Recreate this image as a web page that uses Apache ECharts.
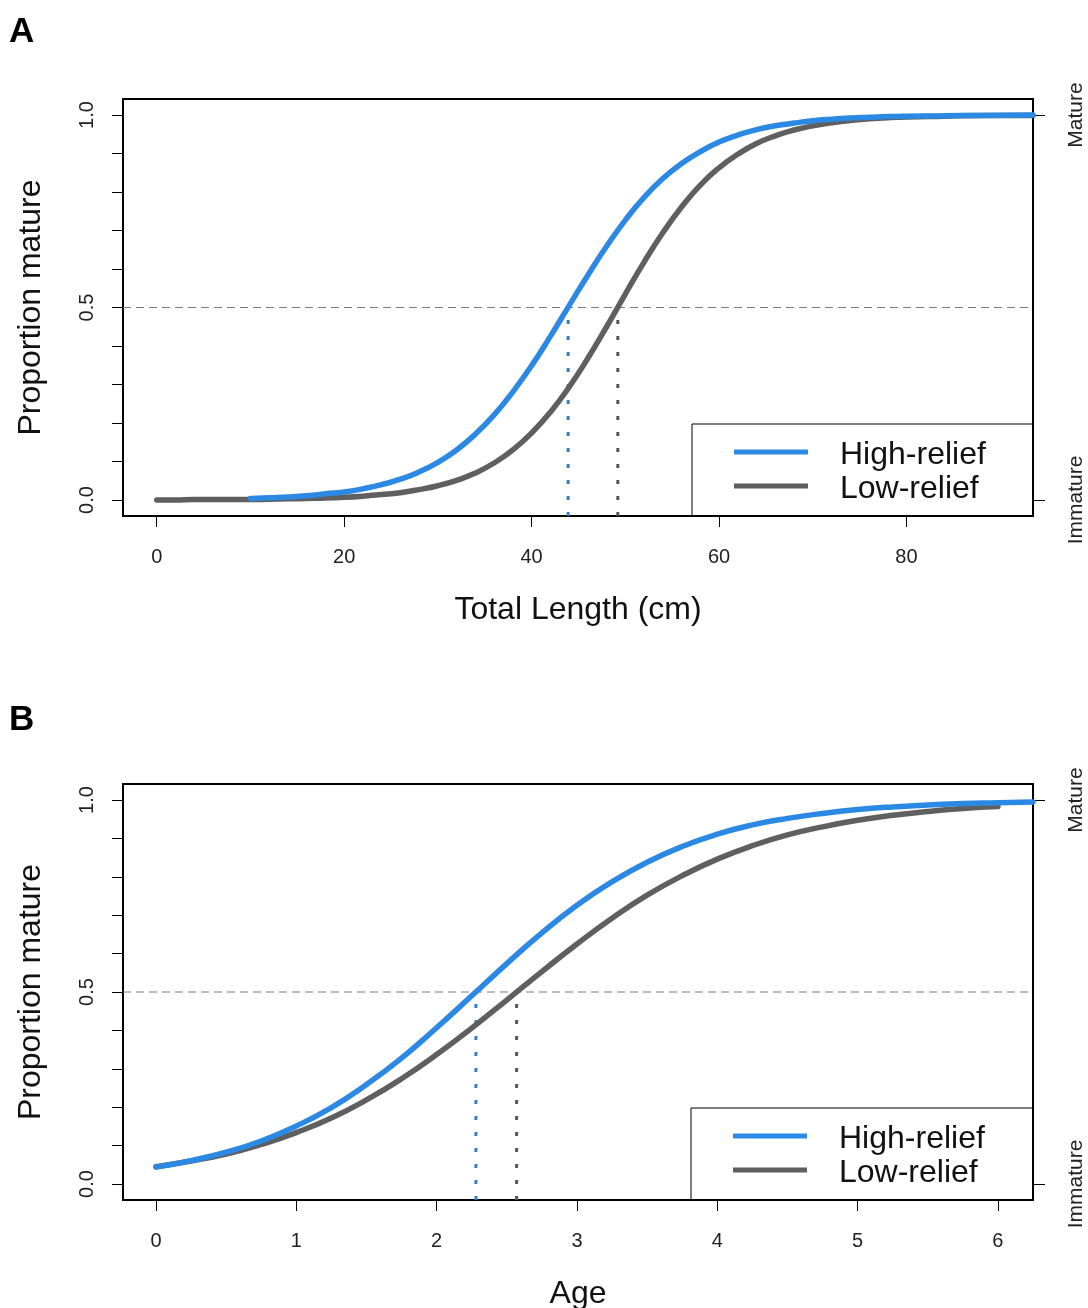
<!DOCTYPE html>
<html>
<head>
<meta charset="utf-8">
<script src="https://cdn.jsdelivr.net/npm/echarts@6/dist/echarts.min.js"></script>
<style>
html,body{margin:0;padding:0;background:#fff;}
#chart{width:1088px;height:1308px;}
</style>
</head>
<body>
<div id="chart"></div>
<script>
// ---------- Panel A: maturity vs total length ----------
const lengthCm = [0,2,4,6,8,10,12,14,16,18,20,22,24,26,28,30,32,34,36,38,40,42,44,46,48,50,52,54,56,58,60,62,64,66,68,70,72,74,76,78,80,84,88,93.5];
const highReliefLength = [null,null,null,null,null,0.004,0.006,0.008,0.011,0.016,0.021,0.029,0.040,0.054,0.073,0.098,0.130,0.171,0.221,0.281,0.349,0.425,0.505,0.584,0.659,0.727,0.786,0.835,0.874,0.905,0.930,0.948,0.962,0.972,0.979,0.985,0.989,0.992,0.994,0.996,0.997,0.998,0.999,1.000];
const lowReliefLength = [0.000,0.000,0.001,0.001,0.001,0.001,0.002,0.003,0.004,0.005,0.007,0.010,0.014,0.019,0.027,0.037,0.051,0.070,0.096,0.130,0.174,0.228,0.293,0.368,0.450,0.535,0.618,0.694,0.761,0.818,0.863,0.898,0.926,0.946,0.961,0.972,0.980,0.986,0.990,0.993,0.995,0.997,0.999,0.999];
const l50Length = {high: 43.9, low: 49.2};
const lengthTicks = [0,20,40,60,80];

// ---------- Panel B: maturity vs age ----------
const ageYears = [0,0.25,0.5,0.75,1,1.25,1.5,1.75,2,2.25,2.5,2.75,3,3.25,3.5,3.75,4,4.25,4.5,4.75,5,5.25,5.5,5.75,6,6.25];
const highReliefAge = [0.044,0.061,0.083,0.112,0.151,0.199,0.259,0.328,0.407,0.490,0.574,0.654,0.726,0.787,0.838,0.879,0.911,0.935,0.952,0.965,0.975,0.982,0.987,0.991,0.993,0.995];
const lowReliefAge = [0.045,0.060,0.078,0.103,0.134,0.172,0.219,0.274,0.337,0.406,0.479,0.553,0.625,0.692,0.752,0.803,0.846,0.881,0.909,0.930,0.947,0.960,0.970,0.978,0.983,null];
const a50Age = {high: 2.28, low: 2.57};
const ageTicks = [0,1,2,3,4,5,6];

const yTicks = [0,0.1,0.2,0.3,0.4,0.5,0.6,0.7,0.8,0.9,1.0];
const yLabels = [0,0.5,1.0];
const rightLabels = ['Immature','Mature'];
const legendNames = ['High-relief','Low-relief'];

const BLUE = '#2b89e3';
const GRAY = '#5f5f5f';
const FONT = 'Arial, "Liberation Sans", sans-serif';
const YMIN = -0.0416, YMAX = 1.0416;

function zip(xs, ys){ return xs.map((x,i)=>[x, ys[i]]); }

function xAxisCfg(grid, min, max, ticks, name){
  return {
    type:'value', gridIndex:grid, min:min, max:max, position:'bottom',
    axisLine:{show:false, onZero:false}, splitLine:{show:false},
    axisTick:{show:true, inside:false, customValues:ticks, length:11, lineStyle:{color:'#000', width:1}},
    axisLabel:{customValues:ticks, fontSize:20, margin:31, color:'#222', fontFamily:FONT},
    name:name, nameLocation:'middle', nameGap:78, nameMoveOverlap:false,
    nameTextStyle:{fontSize:32, color:'#111', fontFamily:FONT}
  };
}
function yLeftCfg(grid){
  return {
    type:'value', gridIndex:grid, min:YMIN, max:YMAX, position:'left',
    axisLine:{show:false, onZero:false}, splitLine:{show:false},
    axisTick:{show:true, inside:false, customValues:yTicks, length:11, lineStyle:{color:'#000', width:1}},
    axisLabel:{customValues:yLabels, rotate:90, fontSize:20, margin:26, color:'#222', fontFamily:FONT,
      formatter:v=>Number(v).toFixed(1)},
    name:'Proportion mature', nameLocation:'middle', nameGap:76, nameMoveOverlap:false,
    nameTextStyle:{fontSize:32, color:'#111', fontFamily:FONT}
  };
}
function yRightCfg(grid){
  return {
    type:'value', gridIndex:grid, min:YMIN, max:YMAX, position:'right',
    axisLine:{show:false, onZero:false}, splitLine:{show:false},
    axisTick:{show:true, inside:false, customValues:[0,1], length:12, lineStyle:{color:'#000', width:1}},
    axisLabel:{customValues:[0,1], rotate:90, fontSize:21, margin:33, color:'#222', fontFamily:FONT,
      formatter:v=> (Number(v) >= 0.5 ? rightLabels[1] : rightLabels[0])}
  };
}
function vline(xi, yi, x, color){
  return {type:'line', xAxisIndex:xi, yAxisIndex:yi, data:[[x,YMIN],[x,0.5]], symbol:'none', silent:true,
    lineStyle:{color:color, width:3, type:[4,12]}, z:1, animation:false};
}
function hline(xi, yi, x0, x1){
  return {type:'line', xAxisIndex:xi, yAxisIndex:yi, data:[[x0,0.5],[x1,0.5]], symbol:'none', silent:true,
    lineStyle:{color:'#7a7a7a', width:1.2, type:[8,5]}, z:1, animation:false};
}
function curve(xi, yi, xs, ys, color, z){
  return {type:'line', xAxisIndex:xi, yAxisIndex:yi, data:zip(xs,ys), symbol:'none', smooth:true, silent:true,
    connectNulls:false, lineStyle:{color:color, width:5.5, cap:'round'}, z:z, animation:false};
}
function legendBox(x, y){
  return [
    {type:'rect', shape:{x:x, y:y, width:1033-x, height:92}, style:{fill:'none', stroke:'#000', lineWidth:1}, z:10},
    {type:'line', shape:{x1:x+42, y1:y+28, x2:x+116, y2:y+28}, style:{stroke:BLUE, lineWidth:5}, z:10},
    {type:'line', shape:{x1:x+42, y1:y+62, x2:x+116, y2:y+62}, style:{stroke:GRAY, lineWidth:5}, z:10},
    {type:'text', x:x+148, y:y+31, style:{text:legendNames[0], fontSize:32, fill:'#111', fontFamily:FONT, verticalAlign:'middle'}, z:10},
    {type:'text', x:x+148, y:y+65, style:{text:legendNames[1], fontSize:32, fill:'#111', fontFamily:FONT, verticalAlign:'middle'}, z:10}
  ];
}

const chart = echarts.init(document.getElementById('chart'), null, {renderer:'canvas'});
chart.setOption({
  backgroundColor:'#fff',
  animation:false,
  title:[
    {text:'A', left:4, top:10, textStyle:{fontSize:35, fontWeight:'bold', color:'#000', fontFamily:FONT}},
    {text:'B', left:4, top:698, textStyle:{fontSize:35, fontWeight:'bold', color:'#000', fontFamily:FONT}}
  ],
  grid:[
    {left:123, top:99, width:910, height:417, show:true, borderColor:'#000', borderWidth:2, backgroundColor:'transparent', outerBoundsMode:'none', containLabel:false},
    {left:123, top:784, width:910, height:416, show:true, borderColor:'#000', borderWidth:2, backgroundColor:'transparent', outerBoundsMode:'none', containLabel:false}
  ],
  xAxis:[
    xAxisCfg(0, -3.6, 93.5, lengthTicks, 'Total Length (cm)'),
    xAxisCfg(1, -0.235, 6.25, ageTicks, 'Age')
  ],
  yAxis:[yLeftCfg(0), yRightCfg(0), yLeftCfg(1), yRightCfg(1)],
  series:[
    vline(0,0,l50Length.high,'#3a7cc2'),
    vline(0,0,l50Length.low,'#555555'),
    hline(0,0,-3.6,93.5),
    curve(0,0,lengthCm,lowReliefLength,GRAY,3),
    curve(0,0,lengthCm,highReliefLength,BLUE,4),
    vline(1,2,a50Age.high,'#3a7cc2'),
    vline(1,2,a50Age.low,'#555555'),
    hline(1,2,-0.235,6.25),
    curve(1,2,ageYears,lowReliefAge,GRAY,3),
    curve(1,2,ageYears,highReliefAge,BLUE,4)
  ],
  graphic: legendBox(692, 424).concat(legendBox(691, 1108))
});
</script>
</body>
</html>
